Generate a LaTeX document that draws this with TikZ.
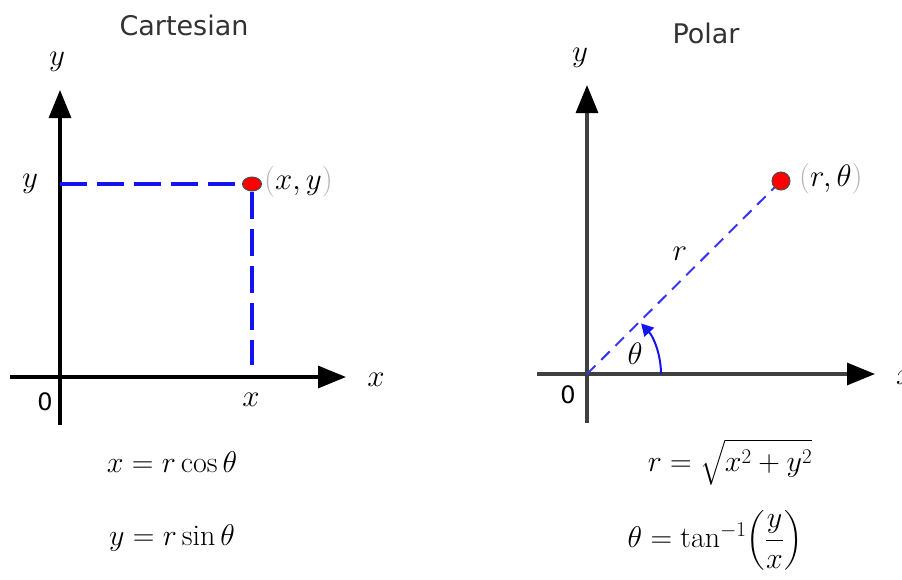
\RequirePackage{fix-cm}
\documentclass[tikz,border=0pt]{standalone}
\usepackage{amsmath}
\usepackage{fontspec}
\newfontfamily\titlefont{DejaVu Sans}
\usetikzlibrary{arrows.meta,shapes.geometric}
\definecolor{dashblue}{RGB}{20,20,240}
\definecolor{titlegray}{RGB}{50,50,50}
\begin{document}
\begin{tikzpicture}[x=1pt,y=-1pt,
  axis/.style={line width=3.2pt,draw=black,-{Triangle[length=28pt,width=22pt]}},
  axisp/.style={line width=3.2pt,draw=black!75,-{Triangle[length=28pt,width=22pt,color=black,fill=black]}},
  dashc/.style={line width=4pt,draw=dashblue,dash pattern=on 27pt off 10pt},
  dashp/.style={line width=2pt,draw=dashblue!85,dash pattern=on 12pt off 8pt},
  dotc/.style={fill=red,draw=black!70,line width=1pt},
  ttl/.style={font=\titlefont\fontsize{27}{32}\selectfont,text=titlegray,inner sep=0pt},
  lbl/.style={font=\fontsize{31}{36}\selectfont,inner sep=0pt},
  eqn/.style={font=\fontsize{30}{36}\selectfont,inner sep=0pt},
  zero/.style={font=\titlefont\fontsize{24}{28}\selectfont,inner sep=0pt}]
\useasboundingbox (0,0) rectangle (902,579);
% ---------- Cartesian ----------
\node[ttl] (tc) at (184,25) {Cartesian};
\coordinate (cyb) at (60,425);
\coordinate (cyt) at (60,90);
\coordinate (cxl) at (10,377);
\coordinate (cxr) at (346,377);
\draw[axis] (cyb) -- (cyt);
\draw[axis] (cxl) -- (cxr);
\node[lbl] (cylab) at (57,62) {$y$};
\node[lbl] (cxlab) at (376,380) {$x$};
\node[zero] (c0) at (45,402) {0};
\node[lbl] (cxt) at (251,400) {$x$};
\node[lbl] (cyt2) at (30,184) {$y$};
\coordinate (cyl) at (60,184);
\node[dotc,ellipse,minimum width=19pt,minimum height=14pt,inner sep=0pt] (cp) at (252,184) {};
\coordinate (cxb) at (252,365);
\draw[dashc] (cyl) -- (cp.west);
\draw[dashc] (cp.south) -- (cxb);
\node[lbl,anchor=west] (cpl) at (264,182) {{\color{black!30}(}$x,y${\color{black!30})}};
\node[eqn] (ce1) at (172,462) {$x=r\cos\theta$};
\node[eqn] (ce2) at (172,538) {$y=r\sin\theta$};
% ---------- Polar ----------
\node[ttl] (tp) at (706,33) {Polar};
\coordinate (pyb) at (587,423);
\coordinate (pyt) at (587,85);
\coordinate (pxl) at (537,374);
\coordinate (pxr) at (875,374);
\coordinate (po) at (587,374);
\draw[axisp] (pyb) -- (pyt);
\draw[axisp] (pxl) -- (pxr);
\node[lbl] (pylab) at (580,58) {$y$};
\node[lbl,anchor=west] (pxlab) at (896,378) {$x$};
\node[zero] (p0) at (568,395) {0};
\node[dotc,circle,minimum size=18pt,inner sep=0pt] (pp) at (781,181) {};
\draw[dashp] (po) -- (pp);
\node[lbl,anchor=west] (ppl) at (799,179) {{\color{black!30}(}$r,\theta${\color{black!30})}};
\node[lbl] (prl) at (680,254) {$r$};
\draw[line width=2pt,draw=dashblue,-{Triangle[length=12pt,width=13pt]}] (661,374) arc[start angle=0,end angle=-43,radius=74];
\node[lbl] (pth) at (635,354) {$\theta$};
\node[eqn] (pe1) at (730,462) {$r=\sqrt{x^2+y^2}$};
\node[eqn] (pe2) at (715,540) {$\theta=\tan^{-1}\!\left(\dfrac{y}{x}\right)$};
\end{tikzpicture}
\end{document}
